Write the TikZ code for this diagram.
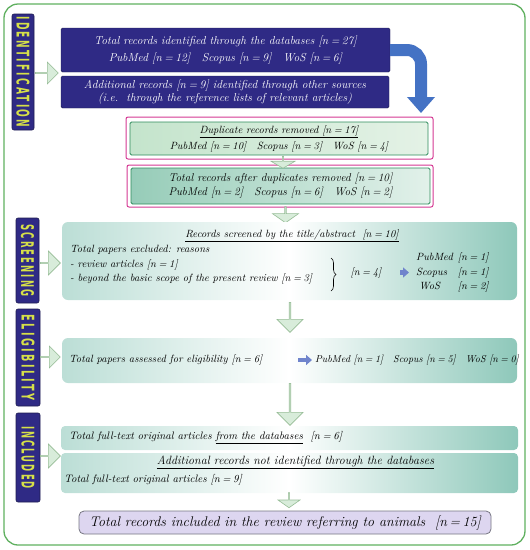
\documentclass[tikz,border=0pt]{standalone}
\usepackage{fontspec}
\usetikzlibrary{shapes.arrows,arrows.meta,decorations.pathreplacing}
\newfontfamily\sidefont[LetterSpace=25]{DejaVu Sans}
\definecolor{framegreen}{RGB}{96,176,96}
\definecolor{navybox}{RGB}{47,42,133}
\definecolor{navyedge}{RGB}{30,28,80}
\definecolor{sideyellow}{RGB}{214,224,72}
\definecolor{pinkedge}{RGB}{212,56,146}
\definecolor{greenedge}{RGB}{46,140,92}
\definecolor{mintleft}{RGB}{196,228,204}
\definecolor{mintright}{RGB}{228,242,230}
\definecolor{tealleft}{RGB}{150,204,184}
\definecolor{tealright}{RGB}{226,241,234}
\definecolor{tealedge}{RGB}{142,200,186}
\definecolor{arrowfill}{RGB}{216,236,218}
\definecolor{arrowedge}{RGB}{150,188,150}
\definecolor{arrowblue}{RGB}{68,114,196}
\definecolor{smallblue}{RGB}{112,132,204}
\definecolor{finalfill}{RGB}{221,214,240}
\definecolor{finaledge}{RGB}{118,118,130}
\newcommand{\nn}[1]{[n\kern2.5pt=\kern2.5pt#1]}
\newcommand{\sidelabel}[3]{\resizebox{#1}{#2}{\sidefont\upshape\bfseries #3}}
\begin{document}
\begin{tikzpicture}[x=1pt,y=-1pt,
		every node/.style={inner sep=0pt, font=\fontsize{10.5}{14.5}\selectfont\itshape},
		sidebox/.style={draw=navyedge, fill=navybox, rounded corners=2pt, line width=0.6pt},
		sidetext/.style={rotate=-90, text=sideyellow},
		bluebox/.style={draw=navyedge, fill=navybox, text=white, rounded corners=1.5pt, align=center},
		pinkbox/.style={draw=pinkedge, line width=1pt, rounded corners=2pt},
		dupbox/.style={draw=greenedge, line width=0.8pt, rounded corners=1.5pt, align=center},
		tealbox/.style={rounded corners=6pt, left color=tealedge!60, right color=tealedge, middle color=white},
		blockarrow/.style={single arrow, draw=arrowedge, fill=arrowfill, line width=0.6pt, single arrow head extend=5pt},
		downarrow/.style={blockarrow, shape border rotate=270},
		bluelink/.style={draw=smallblue, line width=4.5pt, -{Triangle[width=10pt,length=6pt]}},
	]
	\useasboundingbox (0,0) rectangle (530,550);
	\draw[framegreen, line width=1.3pt, rounded corners=14pt] (4,4) rectangle (525,545);

	\node[sidebox, minimum width=22pt, minimum height=116pt] (sIdent) at (23,72) {};
	\node[sidebox, minimum width=23pt, minimum height=85pt] (sScr) at (27.5,260.5) {};
	\node[sidebox, minimum width=24pt, minimum height=97pt] (sElig) at (28,357.5) {};
	\node[sidebox, minimum width=24pt, minimum height=89pt] (sIncl) at (28,457.5) {};
	\node[sidetext] at (sIdent) {\sidelabel{111pt}{13pt}{IDENTIFICATION}};
	\node[sidetext] at (sScr) {\sidelabel{72pt}{13pt}{SCREENING}};
	\node[sidetext] at (sElig) {\sidelabel{86pt}{13pt}{ELIGIBILITY}};
	\node[sidetext] at (sIncl) {\sidelabel{63pt}{13pt}{INCLUDED}};

	\node[blockarrow, minimum width=22pt, minimum height=23pt] at (46.5,73) {};
	\node[blockarrow, minimum width=24pt, minimum height=20pt] at (50,263) {};
	\node[blockarrow, minimum width=22pt, minimum height=20pt] at (50,357) {};
	\node[blockarrow, minimum width=24pt, minimum height=20pt] at (50,456) {};

	\node[bluebox, minimum width=329pt, minimum height=44pt, font=\fontsize{11.5}{17}\selectfont\itshape] (idA) at (225.5,50)
		{Total records identified through the databases \nn{27}\\PubMed \nn{12}\quad Scopus \nn{9}\quad WoS \nn{6}};
	\node[bluebox, minimum width=328pt, minimum height=32pt, font=\fontsize{11.5}{13.5}\selectfont\itshape] (idB) at (225,92)
		{Additional records \nn{9} identified through other sources\\(i.e.\ \ through the reference lists of relevant articles)};

	\coordinate (dupTip) at (421,113);
	\draw[arrowblue, line width=12pt, rounded corners=14pt, -{Triangle[width=27pt,length=16pt]}] (idA.east) -| (dupTip);

	\node[pinkbox, minimum width=307pt, minimum height=42pt] (dupFrame) at (279.5,138) {};
	\node[dupbox, left color=mintleft, right color=mintright, minimum width=298pt, minimum height=33pt,
		font=\fontsize{10.5}{16}\selectfont\itshape] (dup) at (279,138.5)
		{\underline{Duplicate records removed \nn{17}}\\PubMed \nn{10}\quad Scopus \nn{3}\quad WoS \nn{4}};
	\node[pinkbox, minimum width=306pt, minimum height=42pt] (afterFrame) at (280,186) {};
	\node[dupbox, left color=tealleft, right color=tealright, minimum width=299pt, minimum height=36pt,
		font=\fontsize{11.3}{14}\selectfont\itshape] (after) at (280.5,186)
		{Total records after duplicates removed \nn{10}\\PubMed \nn{2}\quad Scopus \nn{6}\quad WoS \nn{2}};
	\node[downarrow, single arrow tip angle=120, minimum width=24pt, minimum height=12pt] at (283,162) {};
	\node[downarrow, single arrow tip angle=110, minimum width=26pt, minimum height=16pt] at (285.5,214.5) {};

	\node[tealbox, minimum width=455pt, minimum height=78pt] (scr) at (289.5,261) {};
	\node (scrT) at (292,236) {\underline{Records screened by the title/abstract\ \ \nn{10}}};
	\node[anchor=west, align=left] (excl) at (70,265)
		{Total papers excluded: reasons\\- review articles \nn{1}\\- beyond the basic scope of the present review \nn{3}};
	\draw[decorate, decoration={brace, amplitude=5pt}, line width=0.6pt] (331,258) -- (331,291);
	\node (exclN) at (366,273) {\nn{4}};
	\node[anchor=west] (exclDb) at (416,272.5)
		{\begin{tabular}{@{}l@{\hspace{5pt}}l@{}}PubMed & \nn{1}\\Scopus & \nn{1}\\\hspace{3pt}WoS & \nn{2}\end{tabular}};
	\draw[bluelink] ([xshift=-16pt]exclDb.west) -- ([xshift=-7pt]exclDb.west);

	\node[downarrow, minimum width=26pt, minimum height=30pt] at (290,317) {};

	\node[tealbox, minimum width=455pt, minimum height=45pt] (elig) at (289.5,360.5) {};
	\node[anchor=west] (eligT) at (69,360) {Total papers assessed for eligibility \nn{6}};
	\node[anchor=west, font=\fontsize{10}{12}\selectfont\itshape] (eligDb) at (315,360)
		{PubMed \nn{1}\quad Scopus \nn{5}\quad WoS \nn{0}};
	\draw[bluelink] ([xshift=-17pt]eligDb.west) -- ([xshift=-3pt]eligDb.west);

	\node[downarrow, minimum width=26pt, minimum height=42pt] at (290,404) {};

	\node[tealbox, rounded corners=4pt, minimum width=457pt, minimum height=24pt] (incA) at (289.5,438) {};
	\node[anchor=west, font=\fontsize{10.8}{13}\selectfont\itshape] (incAT) at (69,438)
		{Total full-text original articles \underline{from the databases}\ \ \nn{6}};
	\node[tealbox, rounded corners=4pt, minimum width=457pt, minimum height=40pt] (incB) at (289.5,473) {};
	\node[font=\fontsize{12}{14}\selectfont\itshape] (incBT) at (295.5,462)
		{\underline{Additional records not identified through the databases}};
	\node[anchor=west, font=\fontsize{10.8}{13}\selectfont\itshape] (incBN) at (64,480)
		{Total full-text original articles \nn{9}};

	\node[downarrow, single arrow tip angle=110, minimum width=22pt, minimum height=15pt] at (289,500) {};

	\node[draw=finaledge, fill=finalfill, line width=0.8pt, rounded corners=5pt, minimum width=412pt, minimum height=23pt,
		font=\fontsize{14}{16}\selectfont\itshape] (fin) at (285,522.5)
		{Total records included in the review referring to animals\ \ \nn{15}};
\end{tikzpicture}
\end{document}
